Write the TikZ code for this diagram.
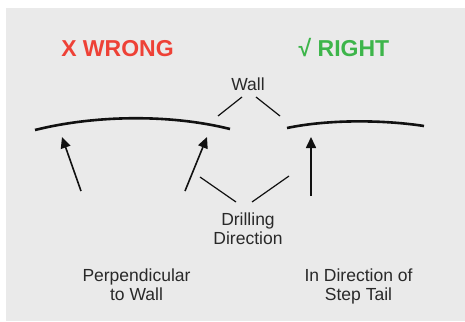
\documentclass[tikz,border=0pt]{standalone}
\usepackage{fontspec}
\setmainfont{Liberation Sans}
\usetikzlibrary{arrows.meta}
\definecolor{bggray}{HTML}{EAEAEA}
\definecolor{wrongred}{HTML}{EE4136}
\definecolor{rightgreen}{HTML}{3DB54A}
\definecolor{ink}{HTML}{111111}
\tikzset{
  head/.style={font=\fontsize{23}{26}\selectfont\bfseries, inner sep=0pt, anchor=base},
  label/.style={font=\fontsize{17.5}{18.7}\selectfont, text=ink!90, inner sep=0pt, align=center},
  wallline/.style={line width=2.6pt, draw=ink},
  drillarrow/.style={line width=1.6pt, draw=ink, -{Triangle[length=11pt,width=10pt]}},
  leader/.style={line width=1.2pt, draw=ink}
}
\begin{document}
\begin{tikzpicture}[x=1pt,y=-1pt]
\useasboundingbox (0,0) rectangle (465,321);
\fill[white] (0,0) rectangle (465,321);
\fill[bggray] (6,8) rectangle (465,321);

\node[head, text=wrongred] (wrong) at (117.5,56.7) {X WRONG};
\node[head, text=rightgreen] (right) at (344,56.7) {√ RIGHT};

\node[label, anchor=base] (wall) at (248,90.7) {Wall};
\node[label, anchor=north] (drill) at (248,213) {Drilling\\Direction};
\node[label, anchor=north] (perp) at (136.5,268.5) {Perpendicular\\to Wall};
\node[label, anchor=north] (tail) at (358.5,268.5) {In Direction of\\Step Tail};

% walls
\draw[wallline] (35,130) coordinate (wl1) .. controls (95,115) and (170,114) .. (230,129) coordinate (wl2);
\draw[wallline] (287,128) coordinate (wr1) .. controls (330,119) and (385,120) .. (424,126) coordinate (wr2);

% wall leaders
\coordinate (wa1) at (242,97);  \coordinate (wa2) at (218,116);
\coordinate (wb1) at (256,97);  \coordinate (wb2) at (280,116);
\draw[leader] (wa1) -- (wa2);
\draw[leader] (wb1) -- (wb2);

% drilling arrows
\coordinate (a1s) at (81,191);  \coordinate (a1e) at (62,137);
\coordinate (a2s) at (185,191); \coordinate (a2e) at (207,137);
\coordinate (a3s) at (311,196); \coordinate (a3e) at (311,137);
\draw[drillarrow] (a1s) -- (a1e);
\draw[drillarrow] (a2s) -- (a2e);
\draw[drillarrow] (a3s) -- (a3e);

% drilling leaders
\coordinate (da1) at (200,177); \coordinate (da2) at (236,202);
\coordinate (db1) at (289,176); \coordinate (db2) at (252,202);
\draw[leader] (da1) -- (da2);
\draw[leader] (db1) -- (db2);
\end{tikzpicture}
\end{document}
